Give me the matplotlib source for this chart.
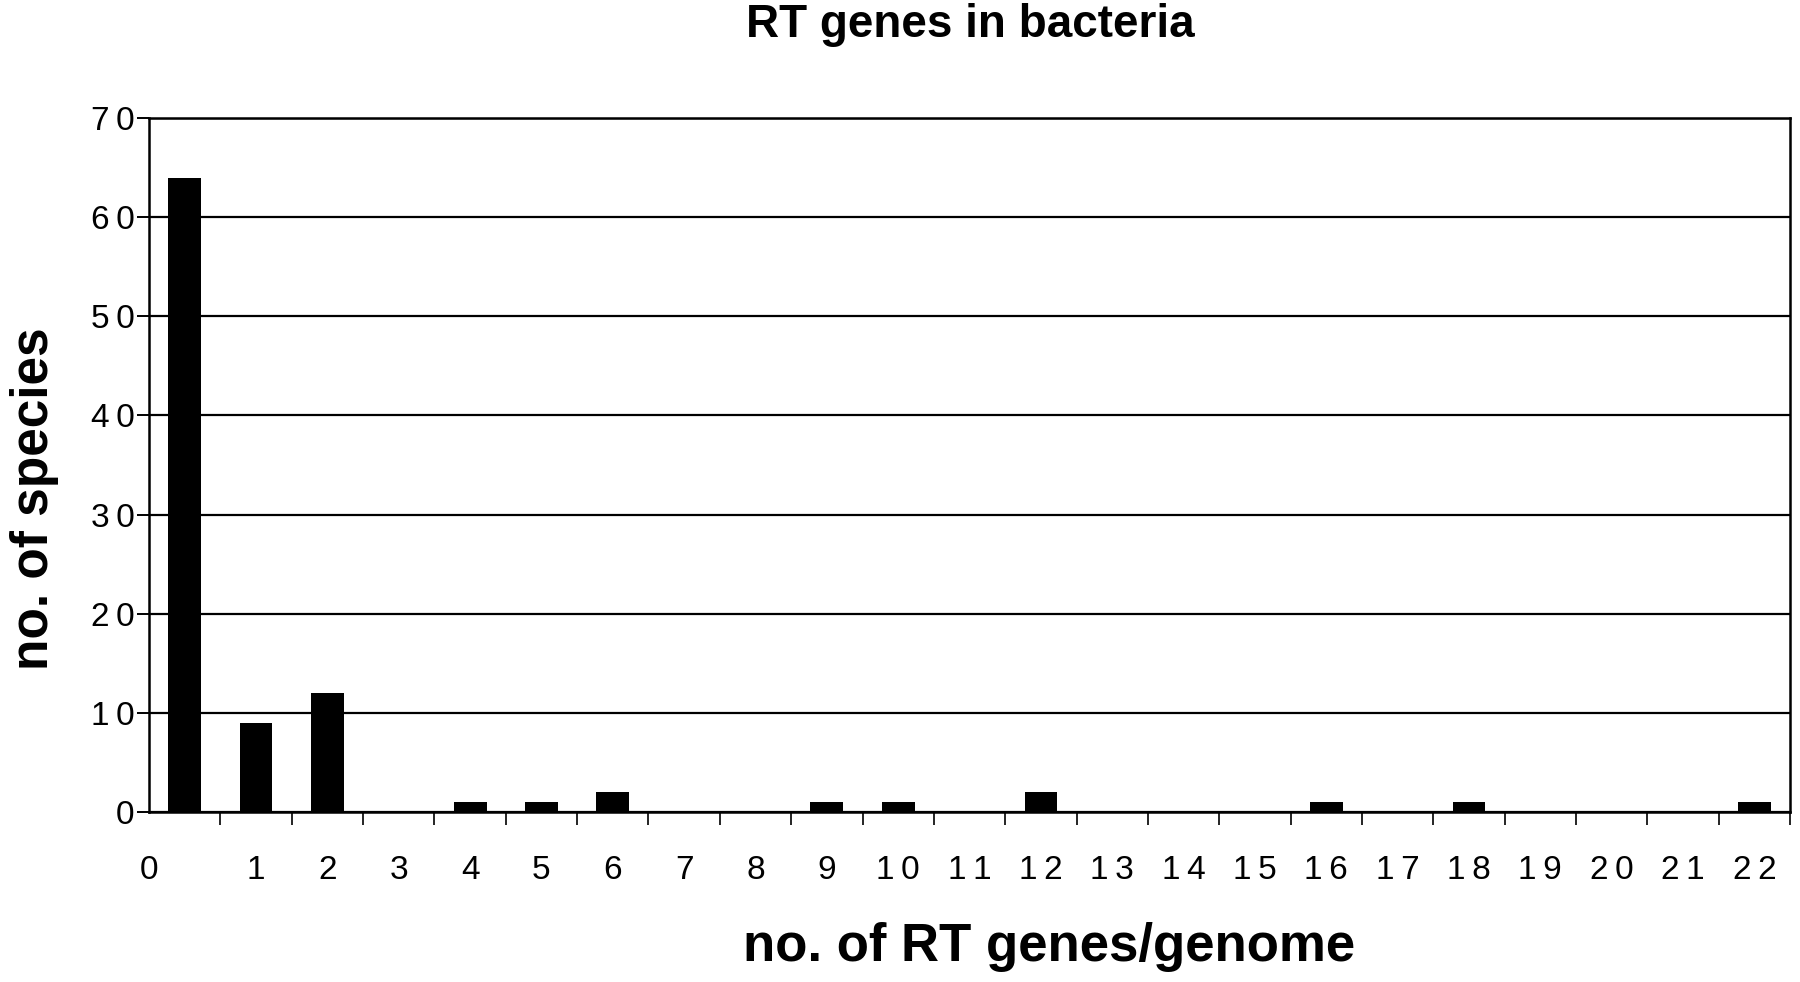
import matplotlib
matplotlib.use("Agg")
import matplotlib.pyplot as plt
import numpy as np

plt.rcParams["font.family"] = ["Liberation Sans", "DejaVu Sans"]

# number of RT genes per genome (category) and number of species in each
categories = list(range(23))
species = [64, 9, 12, 0, 1, 1, 2, 0, 0, 1, 1, 0, 2, 0, 0, 0, 1, 0, 1, 0, 0, 0, 1]
y_ticks = [0, 10, 20, 30, 40, 50, 60, 70]


def spaced(v):
    # the original typesetting puts a small gap between digits
    return "\u2009".join(str(v))


fig = plt.figure(figsize=(18, 9.82), dpi=100)
ax = fig.add_axes([0.0828, 0.1731, 0.9117, 0.7067])

x = np.array(categories)
ax.bar(x, species, width=0.46, color="black", zorder=3)

ax.set_xlim(-0.5, len(categories) - 0.5)
ax.set_ylim(0, 70)
ax.set_yticks(y_ticks)
ax.set_yticklabels([spaced(v) for v in y_ticks], fontsize=24)
ax.yaxis.grid(True, color="black", lw=1.6, zorder=1)
ax.set_axisbelow(True)

# tick marks at category boundaries, labels at slot centres (the "0" sits at the left edge)
ax.set_xticks(np.arange(-0.5, len(categories)), minor=True)
label_pos = [-0.5] + categories[1:]
ax.set_xticks(label_pos)
ax.set_xticklabels([spaced(c) for c in categories], fontsize=24)
ax.tick_params(axis="x", which="major", length=0, pad=31)
ax.tick_params(axis="x", which="minor", length=9, width=1.2, color="black")
ax.tick_params(axis="y", length=9, width=1.4, pad=1.5)

for sp in ax.spines.values():
    sp.set_linewidth(1.8)
    sp.set_color("black")

fig.text(0.539, 0.975, "RT genes in bacteria", ha="center", va="center",
         fontsize=33, fontweight="bold")
fig.text(0.583, 0.036, "no. of RT genes/genome", ha="center", va="center",
         fontsize=38, fontweight="bold")
fig.text(0.019, 0.492, "no. of species", ha="center", va="center",
         rotation=90, fontsize=37, fontweight="bold")

fig.savefig("out.png", dpi=100)
